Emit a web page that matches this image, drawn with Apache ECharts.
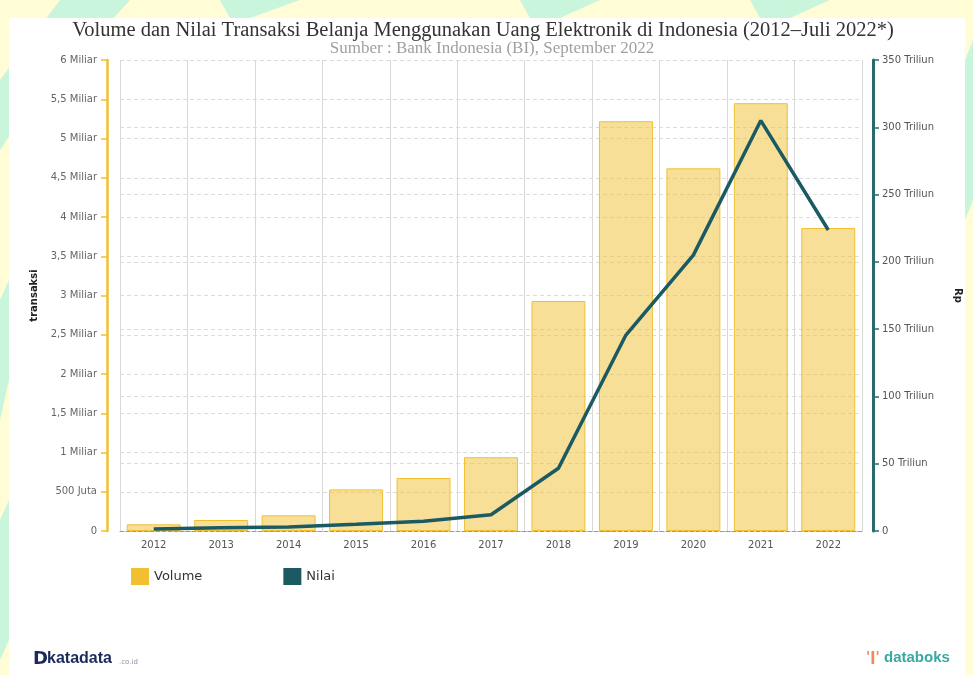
<!DOCTYPE html>
<html><head><meta charset="utf-8">
<script src="https://cdn.jsdelivr.net/npm/echarts@6/dist/echarts.min.js"></script>
<style>html,body{margin:0;padding:0;background:#fffcd6;}#c{width:973px;height:675px;}</style>
</head><body><div id="c"></div>
<script>
const years = ['2012','2013','2014','2015','2016','2017','2018','2019','2020','2021','2022'];
// Volume in miliar transaksi
const volume = [0.085, 0.14, 0.2, 0.53, 0.675, 0.94, 2.93, 5.22, 4.62, 5.45, 3.86];
// Nilai in triliun rupiah
const nilai = [1.5, 2.5, 3, 5, 7.2, 12.1, 46.6, 145.6, 205, 305, 223.7];
const leftTicks = {min: 0, max: 6, interval: 0.5};
const rightTicks = {min: 0, max: 350, interval: 50};

const chart = echarts.init(document.getElementById('c'), null, {renderer: 'canvas'});
const fmtLeft = v => v === 0 ? '0' : (v < 1 ? Math.round(v * 1000) + ' Juta' : String(v).replace('.', ',') + ' Miliar');
const fmtRight = v => v === 0 ? '0' : v + ' Triliun';
const mint = '#c9f5dd';
chart.setOption({
  backgroundColor: '#fffcd6',
  animation: false,
  graphic: [
    {type: 'polygon', shape: {points: [[60,0],[130,0],[20,120],[0,150],[0,80]]}, style: {fill: mint}, z: -10},
    {type: 'polygon', shape: {points: [[220,0],[300,0],[250,18],[230,18]]}, style: {fill: mint}, z: -10},
    {type: 'polygon', shape: {points: [[520,0],[600,0],[560,18],[530,18]]}, style: {fill: mint}, z: -10},
    {type: 'polygon', shape: {points: [[750,0],[830,0],[790,18],[760,18]]}, style: {fill: mint}, z: -10},
    {type: 'polygon', shape: {points: [[0,300],[9,280],[9,380],[0,420]]}, style: {fill: mint}, z: -10},
    {type: 'polygon', shape: {points: [[0,520],[9,500],[9,640],[0,660]]}, style: {fill: mint}, z: -10},
    {type: 'polygon', shape: {points: [[965,60],[973,40],[973,200],[965,220]]}, style: {fill: mint}, z: -10},
    {type: 'rect', shape: {x: 9, y: 18, width: 956, height: 657}, style: {fill: '#ffffff'}, z: -5},
    {type: 'text', left: 33, top: 650, style: {text: 'D', font: 'bold 18px "DejaVu Sans"', fill: '#1a2a5c'}},
    {type: 'text', left: 47, top: 651, style: {text: 'katadata', font: 'bold 16px "Liberation Sans"', fill: '#1a2a5c'}},
    {type: 'text', left: 119, top: 659, style: {text: '.co.id', font: '7px "DejaVu Sans"', fill: '#8a93aa'}},
    {type: 'text', left: 866, top: 650, style: {text: '\u0027\u01C0\u0027', font: 'bold 14px "DejaVu Sans"', fill: '#f08a5d'}},
    {type: 'text', left: 884, top: 650, style: {text: 'databoks', font: 'bold 15px "Liberation Sans"', fill: '#3aa8a3'}}
  ],
  title: [
    {text: 'Volume dan Nilai Transaksi Belanja Menggunakan Uang Elektronik di Indonesia (2012\u2013Juli 2022*)',
     left: 478, top: 15, textAlign: 'center',
     textStyle: {fontFamily: 'Liberation Serif', fontSize: 20.5, fontWeight: 'normal', color: '#333'}},
    {text: 'Sumber : Bank Indonesia (BI), September 2022',
     left: 487, top: 35, textAlign: 'center',
     textStyle: {fontFamily: 'Liberation Serif', fontSize: 17, fontWeight: 'normal', color: '#a0a0a0'}}
  ],
  legend: {
    left: 126, top: 563, itemWidth: 18, itemHeight: 17, itemGap: 81,
    textStyle: {fontFamily: 'DejaVu Sans', fontSize: 13, color: '#333'},
    data: [
      {name: 'Volume', icon: 'rect', itemStyle: {color: '#f0c030', borderWidth: 0}},
      {name: 'Nilai', icon: 'rect', itemStyle: {color: '#1b5a63'}}
    ]
  },
  grid: {left: 120, right: 111, top: 60, bottom: 144},
  xAxis: {
    type: 'category', data: years, boundaryGap: true,
    axisLine: {show: true, lineStyle: {color: '#999', type: 'dashed', width: 1}},
    axisTick: {show: false},
    axisLabel: {fontFamily: 'DejaVu Sans', fontSize: 10, color: '#555', margin: 9},
    splitLine: {show: true, lineStyle: {color: '#d8d8d8', width: 1}}
  },
  yAxis: [
    {type: 'value', position: 'left', offset: 13, ...leftTicks,
     name: 'transaksi', nameLocation: 'middle', nameGap: 68, nameRotate: 90,
     nameTextStyle: {fontFamily: 'DejaVu Sans', fontSize: 10, fontWeight: 'bold', color: '#222'},
     axisLine: {show: true, lineStyle: {color: '#f0c030', width: 2.5}},
     axisTick: {show: true, length: 6, lineStyle: {color: '#f0c030', width: 1.5}},
     axisLabel: {formatter: fmtLeft, fontFamily: 'DejaVu Sans', fontSize: 10, color: '#666', margin: 10},
     splitLine: {show: true, lineStyle: {color: '#dcdcdc', type: [4, 3], width: 1}}},
    {type: 'value', position: 'right', offset: 11, ...rightTicks,
     name: 'Rp', nameLocation: 'middle', nameGap: 80, nameRotate: -90,
     nameTextStyle: {fontFamily: 'DejaVu Sans', fontSize: 10, fontWeight: 'bold', color: '#222'},
     axisLine: {show: true, lineStyle: {color: '#2c6870', width: 3}},
     axisTick: {show: true, length: 6, lineStyle: {color: '#2c6870', width: 1.5}},
     axisLabel: {formatter: fmtRight, fontFamily: 'DejaVu Sans', fontSize: 10, color: '#555', margin: 9},
     splitLine: {show: true, lineStyle: {color: '#dcdcdc', type: [4, 3], width: 1}}}
  ],
  series: [
    {name: 'Volume', type: 'bar', yAxisIndex: 0, data: volume, barCategoryGap: '20%',
     itemStyle: {color: 'rgba(240,192,48,0.5)', borderColor: '#f0c030', borderWidth: 1}},
    {name: 'Nilai', type: 'line', yAxisIndex: 1, data: nilai, symbol: 'none',
     lineStyle: {color: '#1b5a63', width: 3.5}, itemStyle: {color: '#1b5a63'}, z: 5}
  ]
});
</script></body></html>
